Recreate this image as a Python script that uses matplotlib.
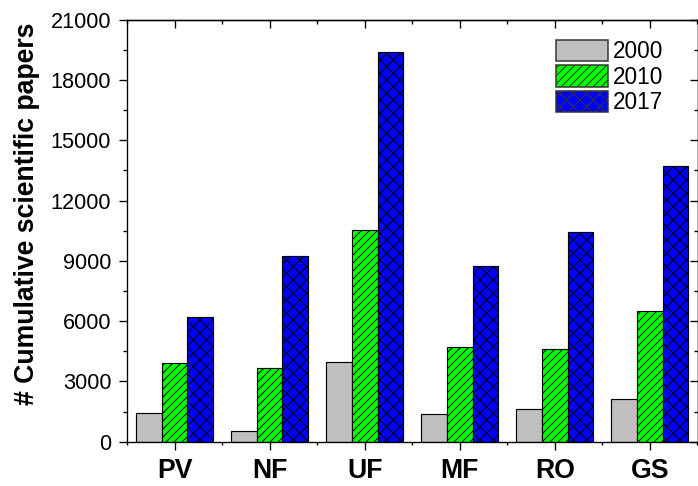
import numpy as np
import matplotlib
matplotlib.use("Agg")
import matplotlib.pyplot as plt
from matplotlib.ticker import MultipleLocator, FixedLocator, NullFormatter

plt.rcParams["font.family"] = ["Liberation Sans", "DejaVu Sans"]
plt.rcParams["hatch.linewidth"] = 0.6

categories = ["PV", "NF", "UF", "MF", "RO", "GS"]
years = ["2000", "2010", "2017"]
papers_2000 = [1410, 530, 3950, 1390, 1625, 2140]
papers_2010 = [3900, 3650, 10530, 4725, 4625, 6490]
papers_2017 = [6220, 9240, 19390, 8755, 10430, 13720]

colors = ["#c0c0c0", "#00ff00", "#0000ff"]
hatches = ["", "/////", "xxx"]

W, H, DPI = 698, 486, 120
fig = plt.figure(figsize=(W / DPI, H / DPI), dpi=DPI)
left, right, top, bottom = 127, 697.5, 19.7, 441.7
ax = fig.add_axes([left / W, 1 - bottom / H, (right - left) / W, (bottom - top) / H])

x = np.arange(len(categories))
width = 0.27
series = [papers_2000, papers_2010, papers_2017]
for i, (vals, year) in enumerate(zip(series, years)):
    ax.bar(x + (i - 1) * width, vals, width, color=colors[i], hatch=hatches[i],
           edgecolor="black", linewidth=0.7, label=year)

ax.set_xlim(-0.5, 5.5)
ax.set_ylim(0, 21000)
ax.yaxis.set_major_locator(MultipleLocator(3000))
ax.yaxis.set_minor_locator(MultipleLocator(1500))
ax.set_xticks(x)
ax.set_xticklabels(categories, fontsize=16, fontweight="bold")
ax.xaxis.set_minor_locator(FixedLocator(np.arange(-0.5, 6, 1)))
for lab in ax.get_yticklabels():
    lab.set_fontsize(13)

for sp in ax.spines.values():
    sp.set_linewidth(0.8)

ax.tick_params(axis="y", which="major", direction="out", length=5, width=0.8, pad=4.5)
ax.tick_params(axis="y", which="minor", direction="out", length=2.5, width=0.8)
ax.tick_params(axis="x", which="major", direction="out", length=4.5, width=0.8, pad=5)
ax.tick_params(axis="x", which="minor", direction="out", length=2, width=0.8)

# right and top ticks point inward
sy = ax.secondary_yaxis("right")
sy.yaxis.set_major_locator(MultipleLocator(3000))
sy.yaxis.set_minor_locator(MultipleLocator(1500))
sy.yaxis.set_major_formatter(NullFormatter())
sy.tick_params(which="major", direction="in", length=5, width=0.8)
sy.tick_params(which="minor", direction="in", length=2.5, width=0.8)
sy.spines["right"].set_linewidth(0.8)

sx = ax.secondary_xaxis("top")
sx.xaxis.set_major_locator(FixedLocator(x))
sx.xaxis.set_minor_locator(FixedLocator(np.arange(-0.5, 6, 1)))
sx.xaxis.set_major_formatter(NullFormatter())
sx.tick_params(which="major", direction="in", length=5, width=0.8)
sx.tick_params(which="minor", direction="in", length=2.5, width=0.8)
sx.spines["top"].set_linewidth(0.8)

fig.text(27.5 / W, 1 - 214 / H, "# Cumulative scientific papers", rotation=90,
         ha="center", va="center", fontsize=16, fontweight="bold")

leg = ax.legend(loc="upper left", bbox_to_anchor=(556 / W, 1 - 40 / H),
                bbox_transform=fig.transFigure, frameon=False, fontsize=13.5,
                borderpad=0, borderaxespad=0, handlelength=2.31, handleheight=1.07,
                labelspacing=0.1, handletextpad=0.22)
for p in leg.get_patches():
    p.set_edgecolor("#333333")
    p.set_linewidth(0.9)

fig.savefig("out.png", dpi=DPI)
